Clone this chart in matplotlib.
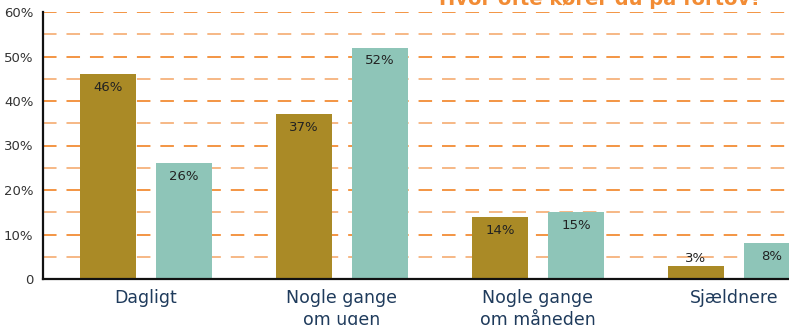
import matplotlib.pyplot as plt
import numpy as np

# svar fordelt på kategorier
kategorier = ['Dagligt', 'Nogle gange\nom ugen', 'Nogle gange\nom måneden', 'Sjældnere']
serie_a = [46, 37, 14, 3]
serie_b = [26, 52, 15, 8]
y_ticks = [0, 10, 20, 30, 40, 50, 60]
y_labels = ['0', '10%', '20%', '30%', '40%', '50%', '60%']
titel = 'Hvor ofte kører du på fortov?'

guld = '#aa8a26'
teal = '#8ec5b8'
orange = '#f28c35'
orange_lys = '#f6b27c'
tekst = '#333333'
navy = '#1f3b5c'

fig = plt.figure(figsize=(7.89, 3.25), dpi=100)
ax = fig.add_axes([43 / 789, 46 / 325, 1 - 43 / 789, 267 / 325])

x = np.arange(len(kategorier))
bredde = 0.2857
afstand = 0.194

# stiplede hjælpelinjer hver 5%
for v in range(5, 61, 5):
    if v % 10 == 0:
        ax.axhline(v, color=orange, lw=1.3, ls=(0, (7.5, 5.5)), zorder=1)
    else:
        ax.axhline(v, color=orange_lys, lw=1.3, ls=(0, (7.5, 5.5)), zorder=1)

ax.bar(x - afstand, serie_a, width=bredde, color=guld, zorder=2)
ax.bar(x + afstand, serie_b, width=bredde, color=teal, zorder=2)

for xs, vals in ((x - afstand, serie_a), (x + afstand, serie_b)):
    for xi, v in zip(xs, vals):
        yp = v - 3 if v >= 6 else v + 1.5
        ax.text(xi, yp, f'{v}%', ha='center', va='center', fontsize=9.5,
                color='#222222', zorder=3)

ax.set_xlim(-0.5255, 3.281)
ax.set_ylim(0, 60)
ax.set_yticks(y_ticks)
ax.set_yticklabels(y_labels, fontsize=9.5, color=tekst)
ax.tick_params(axis='y', length=0, pad=7)
ax.set_xticks(x)
ax.set_xticklabels(kategorier, fontsize=12.5, color=navy, linespacing=1.3)
ax.tick_params(axis='x', length=0, pad=7)

for s in ('top', 'right'):
    ax.spines[s].set_visible(False)
ax.spines['left'].set_linewidth(1.6)
ax.spines['bottom'].set_linewidth(1.6)
ax.spines['left'].set_color('#111111')
ax.spines['bottom'].set_color('#111111')

fig.text(600 / 789, 1 - 5 / 325, titel, ha='center', va='baseline',
         fontsize=14, fontweight='bold', color=orange)

fig.savefig('out.png', dpi=100)
